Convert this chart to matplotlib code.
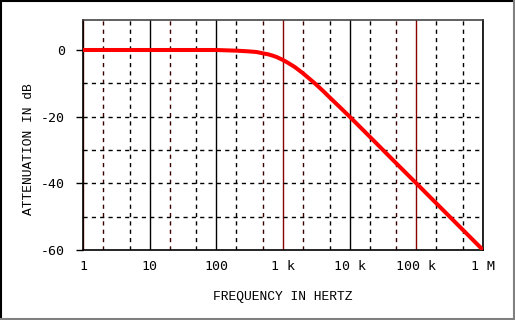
import matplotlib
matplotlib.use("Agg")
import matplotlib.pyplot as plt
from matplotlib.lines import Line2D

# ── Data ─────────────────────────────────────────────────────────────────────
freq_hz = [1, 10, 100, 200, 300, 400, 500, 600, 700, 800, 1000, 1200, 1500,
           2000, 3000, 4000, 5000, 7000, 10000, 20000, 50000, 100000, 1000000]
atten_db = [0.0, 0.0, 0.0, -0.2, -0.4, -0.6, -1.0, -1.3, -1.7, -2.1, -3.0,
            -3.9, -5.1, -7.0, -10.0, -12.3, -14.2, -17.0, -20.0, -26.0,
            -34.0, -40.0, -60.0]

x_ticks = [1, 10, 100, 1e3, 1e4, 1e5, 1e6]
x_tick_labels = ["1", "10", "100", "1 k", "10 k", "100 k", "1 M"]
y_ticks = [0, -20, -40, -60]
y_tick_labels = ["0", "-20", "-40", "-60"]
y_grid = [-10, -20, -30, -40, -50]
decades = [1, 10, 100, 1e3, 1e4, 1e5, 1e6]
red_decades = [1, 1e3, 1e5]
minor_lines = [2, 5, 20, 50, 200, 500, 2e3, 5e3, 2e4, 5e4, 2e5, 5e5]
red_minor = [2, 20, 500, 2e3, 5e4]

# ── Figure ───────────────────────────────────────────────────────────────────
fig = plt.figure(figsize=(5.15, 3.2), dpi=100)
ax = fig.add_axes([83 / 515, 1 - 250 / 320, 400 / 515, 230 / 320])

ax.set_xscale("log")
ax.set_xlim(1, 1e6)
ax.set_ylim(-60, 9)

# grid
for f in minor_lines:
    c = "#3a0000" if f in red_minor else "black"
    ax.axvline(f, color=c, lw=1.0, ls=(0, (3, 3)), zorder=1)
for f in decades:
    c = "#8b0000" if f in red_decades else "black"
    ax.axvline(f, color=c, lw=1.0, zorder=1)
for y in y_grid:
    ax.axhline(y, color="black", lw=1.0, ls=(0, (3, 3)), zorder=1)

ax.plot(freq_hz, atten_db, color="#ff0000", lw=2.9, solid_capstyle="butt",
        zorder=3)

ax.set_xticks(x_ticks)
ax.set_xticklabels(x_tick_labels, family="DejaVu Sans Mono", fontsize=9.5)
ax.minorticks_off()
ax.set_yticks(y_ticks)
ax.set_yticklabels(y_tick_labels, family="DejaVu Sans Mono", fontsize=9.5)
ax.tick_params(axis="x", length=0, pad=7)
ax.tick_params(axis="y", length=5, width=1, pad=8)

for s in ax.spines.values():
    s.set_linewidth(1.2)
    s.set_color("black")
ax.spines["top"].set_color("#444444")

ax.set_xlabel("FREQUENCY IN HERTZ", family="Liberation Mono", fontsize=9.4,
              labelpad=13)
ax.set_ylabel("ATTENUATION IN dB", family="Liberation Mono", fontsize=9.4)
ax.yaxis.set_label_coords(-0.12, 0.44)

# bevelled outer border
fig.add_artist(Line2D([0.5 / 515, 0.5 / 515], [0, 1], color="black", lw=1.5))
fig.add_artist(Line2D([0, 1], [1 - 0.5 / 320, 1 - 0.5 / 320], color="black", lw=1.5))
fig.add_artist(Line2D([0, 1], [1.0 / 320, 1.0 / 320], color="#808080", lw=1.5))
fig.add_artist(Line2D([1 - 1.0 / 515, 1 - 1.0 / 515], [0, 1], color="#808080", lw=1.5))

fig.savefig("out.png", dpi=100)
